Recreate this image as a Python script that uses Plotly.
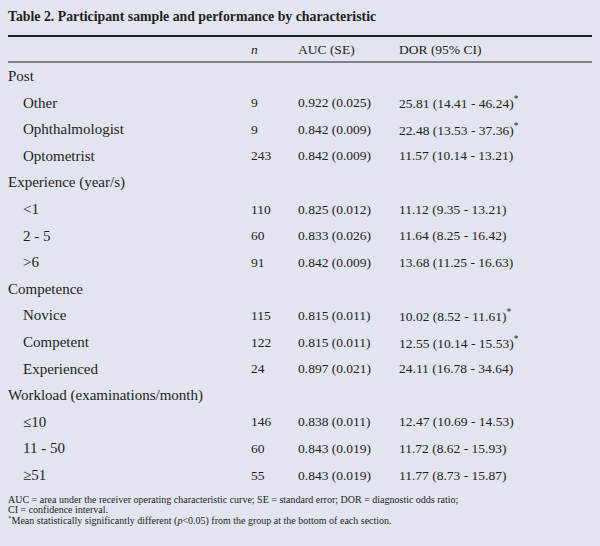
import plotly.graph_objects as go

# table content
sections = ["Post", "Experience (year/s)", "Competence", "Workload (examinations/month)"]
section_sizes = [3, 3, 3, 3]
labels = ["Other", "Ophthalmologist", "Optometrist",
          "&lt;1", "2 - 5", "&gt;6",
          "Novice", "Competent", "Experienced",
          "≤10", "11 - 50", "≥51"]
n_vals = [9, 9, 243, 110, 60, 91, 115, 122, 24, 146, 60, 55]
auc = [0.922, 0.842, 0.842, 0.825, 0.833, 0.842, 0.815, 0.815, 0.897, 0.838, 0.843, 0.843]
auc_se = [0.025, 0.009, 0.009, 0.012, 0.026, 0.009, 0.011, 0.011, 0.021, 0.011, 0.019, 0.019]
dor = [25.81, 22.48, 11.57, 11.12, 11.64, 13.68, 10.02, 12.55, 24.11, 12.47, 11.72, 11.77]
dor_lo = [14.41, 13.53, 10.14, 9.35, 8.25, 11.25, 8.52, 10.14, 16.78, 10.69, 8.62, 8.73]
dor_hi = [46.24, 37.36, 13.21, 13.21, 16.42, 16.63, 11.61, 15.53, 34.64, 14.53, 15.93, 15.87]
significant = [1, 1, 0, 0, 0, 0, 1, 1, 0, 0, 0, 0]

headers = ["<i>n</i>", "AUC (SE)", "DOR (95% CI)"]
title = "<b>Table 2. Participant sample and performance by characteristic</b>"
footnotes = [
    "AUC = area under the receiver operating characteristic curve; SE = standard error; DOR = diagnostic odds ratio;",
    "CI = confidence interval.",
    "<sup>*</sup>Mean statistically significantly different (<i>p</i>&lt;0.05) from the group at the bottom of each section.",
]

FONT = "Liberation Serif"
INK = "#231f20"
BG = "#e2e4f0"

# column x positions and row geometry (pixel-like axis units)
x_cat, x_sub, x_n, x_auc, x_dor = 6, 21, 249, 296, 397
y_first, pitch = 76, 26.6

fig = go.Figure()
ann = []

def cell(x, y, text, size=13.5):
    ann.append(dict(x=x, y=y, xref="x", yref="y", text=text, showarrow=False,
                    xanchor="left", yanchor="middle",
                    font=dict(family=FONT, size=size, color=INK)))

# title + header
cell(x_cat, 16, title, 13.8)
for x, h in zip([x_n, x_auc, x_dor], headers):
    cell(x, 49, h)

row = 0
k = 0
for sec, size in zip(sections, section_sizes):
    cell(x_cat, y_first + row * pitch, sec, 15)
    row += 1
    for _ in range(size):
        y = y_first + row * pitch
        cell(x_sub, y, labels[k], 15)
        cell(x_n, y, str(n_vals[k]))
        cell(x_auc, y, "%.3f (%.3f)" % (auc[k], auc_se[k]))
        star = "<sup>*</sup>" if significant[k] else ""
        cell(x_dor, y, "%.2f (%.2f - %.2f)%s" % (dor[k], dor_lo[k], dor_hi[k], star))
        row += 1
        k += 1

for i, f in enumerate(footnotes):
    cell(x_cat, 499 + i * 10.5, f, 10)

fig.add_shape(type="line", x0=8, x1=592, y0=36, y1=36, xref="x", yref="y",
              line=dict(color=INK, width=2))
fig.add_shape(type="line", x0=8, x1=592, y0=62, y1=62, xref="x", yref="y",
              line=dict(color=INK, width=1))

fig.update_layout(
    width=600, height=546,
    margin=dict(l=0, r=0, t=0, b=0),
    paper_bgcolor=BG, plot_bgcolor=BG,
    annotations=ann,
    showlegend=False,
    xaxis=dict(range=[0, 600], visible=False, fixedrange=True),
    yaxis=dict(range=[546, 0], visible=False, fixedrange=True),
)

# page body has a default margin; drop it so the figure fills the window
fig.write_html("out.html", config={"displayModeBar": False},
               post_script="document.body.style.margin='0';document.body.style.background='%s';" % BG)
